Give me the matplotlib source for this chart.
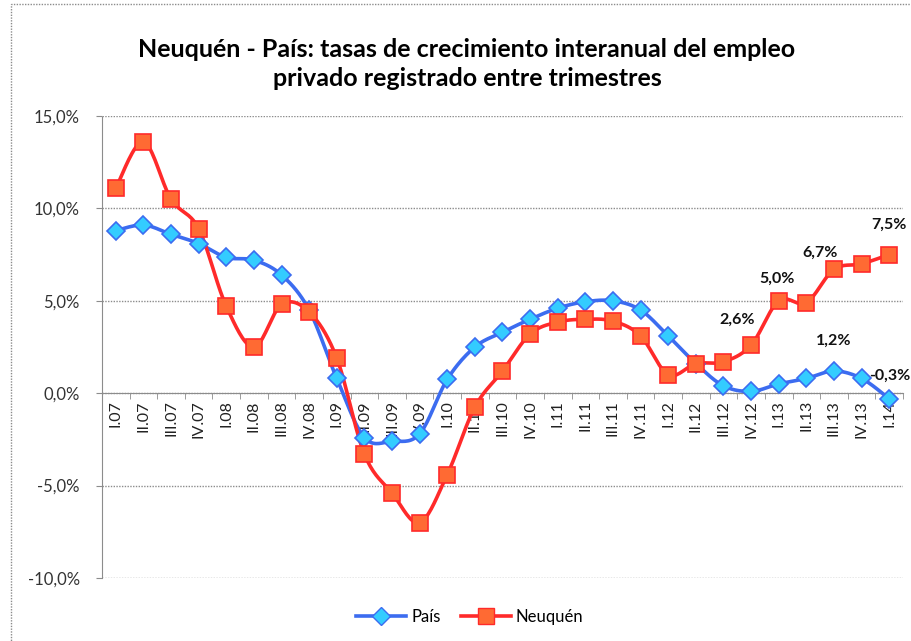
import numpy as np
import matplotlib
matplotlib.use('Agg')
import matplotlib.pyplot as plt
from matplotlib.patches import Rectangle

plt.rcParams['font.family'] = ['Lato', 'DejaVu Sans']

trimestres = ['I.07', 'II.07', 'III.07', 'IV.07', 'I.08', 'II.08', 'III.08', 'IV.08',
              'I.09', 'II.09', 'III.09', 'IV.09', 'I.10', 'II.10', 'III.10', 'IV.10',
              'I.11', 'II.11', 'III.11', 'IV.11', 'I.12', 'II.12', 'III.12', 'IV.12',
              'I.13', 'II.13', 'III.13', 'IV.13', 'I.14']
pais = [8.8, 9.1, 8.6, 8.1, 7.35, 7.2, 6.4, 4.5, 0.8, -2.4, -2.6, -2.2, 0.75, 2.5,
        3.3, 4.0, 4.6, 4.95, 5.0, 4.5, 3.1, 1.6, 0.4, 0.1, 0.5, 0.8, 1.2, 0.8, -0.3]
neuquen = [11.1, 13.6, 10.5, 8.9, 4.7, 2.5, 4.8, 4.4, 1.9, -3.3, -5.4, -7.0, -4.4, -0.75,
           1.2, 3.2, 3.85, 4.0, 3.9, 3.1, 1.0, 1.6, 1.7, 2.6, 5.0, 4.9, 6.7, 7.0, 7.5]

# labelled points: (index, offset in pixels)
lab_neuquen = {23: (-14, 18), 24: (-2, 15), 26: (-14, 10), 28: (0, 23)}
lab_pais = {26: (0, 23), 28: (1, 16)}


def smooth(x, y, n=20):
    # Excel-like smoothed line (cubic Bezier, tension 1/6)
    p = np.column_stack([x, y]).astype(float)
    ext = np.vstack([p[0], p, p[-1]])
    out = []
    t = np.linspace(0, 1, n)[:, None]
    for i in range(len(p) - 1):
        p0, p3 = ext[i + 1], ext[i + 2]
        c1 = p0 + (ext[i + 2] - ext[i]) / 6
        c2 = p3 - (ext[i + 3] - ext[i + 1]) / 6
        seg = ((1 - t) ** 3) * p0 + 3 * ((1 - t) ** 2) * t * c1 + 3 * (1 - t) * t ** 2 * c2 + t ** 3 * p3
        out.append(seg if i == 0 else seg[1:])
    s = np.vstack(out)
    return s[:, 0], s[:, 1]


fig = plt.figure(figsize=(9.12, 6.41), dpi=100)
ax = fig.add_axes([102 / 912, 63 / 641, 801 / 912, 462 / 641])

x = np.arange(len(trimestres))

blue_line, blue_face = '#3c6cf0', '#33ccff'
red_line, red_face = '#ff2a2a', '#ff6a33'

sx, sy = smooth(x, pais)
ax.plot(sx, sy, color=blue_line, lw=2.6, zorder=3)
ax.plot(x, pais, ls='none', marker='D', ms=9, mfc=blue_face, mec=blue_line, mew=1.2, zorder=4)
sx, sy = smooth(x, neuquen)
ax.plot(sx, sy, color=red_line, lw=2.6, zorder=3)
ax.plot(x, neuquen, ls='none', marker='s', ms=11, mfc=red_face, mec=red_line, mew=1.2, zorder=4)

for idx, off in lab_neuquen.items():
    v = neuquen[idx]
    ax.annotate(('%.1f' % v).replace('.', ',') + '%', (x[idx], v), xytext=off,
                textcoords='offset pixels', ha='center', va='bottom',
                fontsize=11.5, fontweight='bold', color='#111111', zorder=6)
for idx, off in lab_pais.items():
    v = pais[idx]
    ax.annotate(('%.1f' % v).replace('.', ',') + '%', (x[idx], v), xytext=off,
                textcoords='offset pixels', ha='center', va='bottom',
                fontsize=11.5, fontweight='bold', color='#111111', zorder=6)

ax.set_xlim(-0.5, len(trimestres) - 0.5)
ax.set_ylim(-10, 15)
ax.set_yticks([-10, -5, 0, 5, 10, 15])
ax.set_yticklabels([('%.1f' % v).replace('.', ',') + '%' for v in [-10, -5, 0, 5, 10, 15]])
ax.yaxis.grid(True, ls=(0, (1, 1)), color='#8c8c8c', lw=1)
ax.set_axisbelow(True)

for s in ['top', 'right']:
    ax.spines[s].set_visible(False)
ax.spines['left'].set_linestyle((0, (1, 1)))
ax.spines['left'].set_color('#8c8c8c')
ax.spines['bottom'].set_position(('data', 0))
ax.spines['bottom'].set_linestyle((0, (1, 1)))
ax.spines['bottom'].set_color('#8c8c8c')

ax.set_xticks(x)
ax.set_xticklabels(trimestres, rotation=90, fontsize=11.5, color='#222222')
ax.set_xticks(np.arange(-0.5, len(trimestres), 1), minor=True)
ax.tick_params(axis='x', which='major', length=0, pad=5)
ax.tick_params(axis='x', which='minor', length=4, color='#8c8c8c', direction='out')
ax.tick_params(axis='y', length=4, color='#8c8c8c', labelsize=12, labelcolor='#333333', pad=12)

fig.text(0.512, 0.9, 'Neuquén - País: tasas de crecimiento interanual del empleo\nprivado registrado entre trimestres',
         ha='center', va='center', fontsize=18, fontweight='bold', linespacing=1.3)

h1, = ax.plot([], [], color=blue_line, lw=2.6, marker='D', ms=9, mfc=blue_face, mec=blue_line)
h2, = ax.plot([], [], color=red_line, lw=2.6, marker='s', ms=11, mfc=red_face, mec=red_line)
fig.legend([h1, h2], ['País', 'Neuquén'], loc='center', bbox_to_anchor=(0.515, 0.037),
           ncol=2, frameon=False, fontsize=12, handlelength=3, columnspacing=1.2, handletextpad=0.3)

fig.patches.append(Rectangle((11 / 912, -0.1), 1.2, 1.1 - 4 / 641, transform=fig.transFigure,
                             fill=False, ls=(0, (1, 1)), ec='#8c8c8c', lw=1))

fig.savefig('out.png', dpi=100)
